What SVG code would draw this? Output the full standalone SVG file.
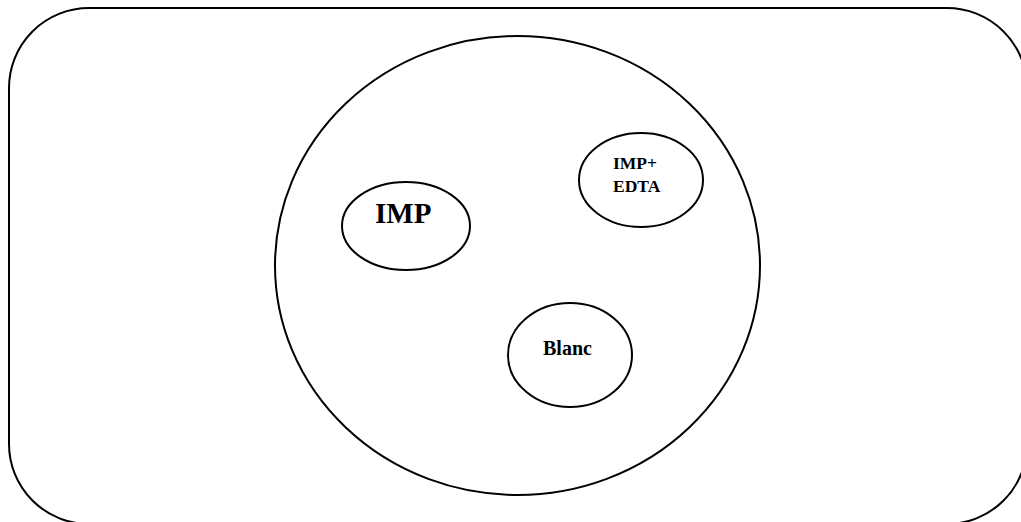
<svg xmlns="http://www.w3.org/2000/svg" width="1021" height="522" viewBox="0 0 1021 522">
<style>
.s{fill:none;stroke:#000;stroke-width:2}
.t{font-family:"Liberation Serif",serif;font-weight:bold;fill:#000}
</style>
<rect width="1021" height="522" fill="#fff"/>
<g id="frame"><rect class="s" x="9" y="8" width="1018" height="516" rx="80" ry="80"/></g>
<g id="outer"><ellipse class="s" cx="517.5" cy="265.5" rx="242.5" ry="229.5"/></g>
<g id="imp"><ellipse class="s" cx="406" cy="226" rx="64" ry="44"/><text class="t" x="375" y="223" font-size="29">IMP</text></g>
<g id="imp-edta"><ellipse class="s" cx="641" cy="180" rx="62" ry="47"/><text class="t" x="613" y="169" font-size="17.5">IMP+</text><text class="t" x="613" y="192" font-size="17.5">EDTA</text></g>
<g id="blanc"><ellipse class="s" cx="570" cy="355" rx="62" ry="52"/><text class="t" x="543" y="355" font-size="20">Blanc</text></g>
<g id="connectors"/>
</svg>
